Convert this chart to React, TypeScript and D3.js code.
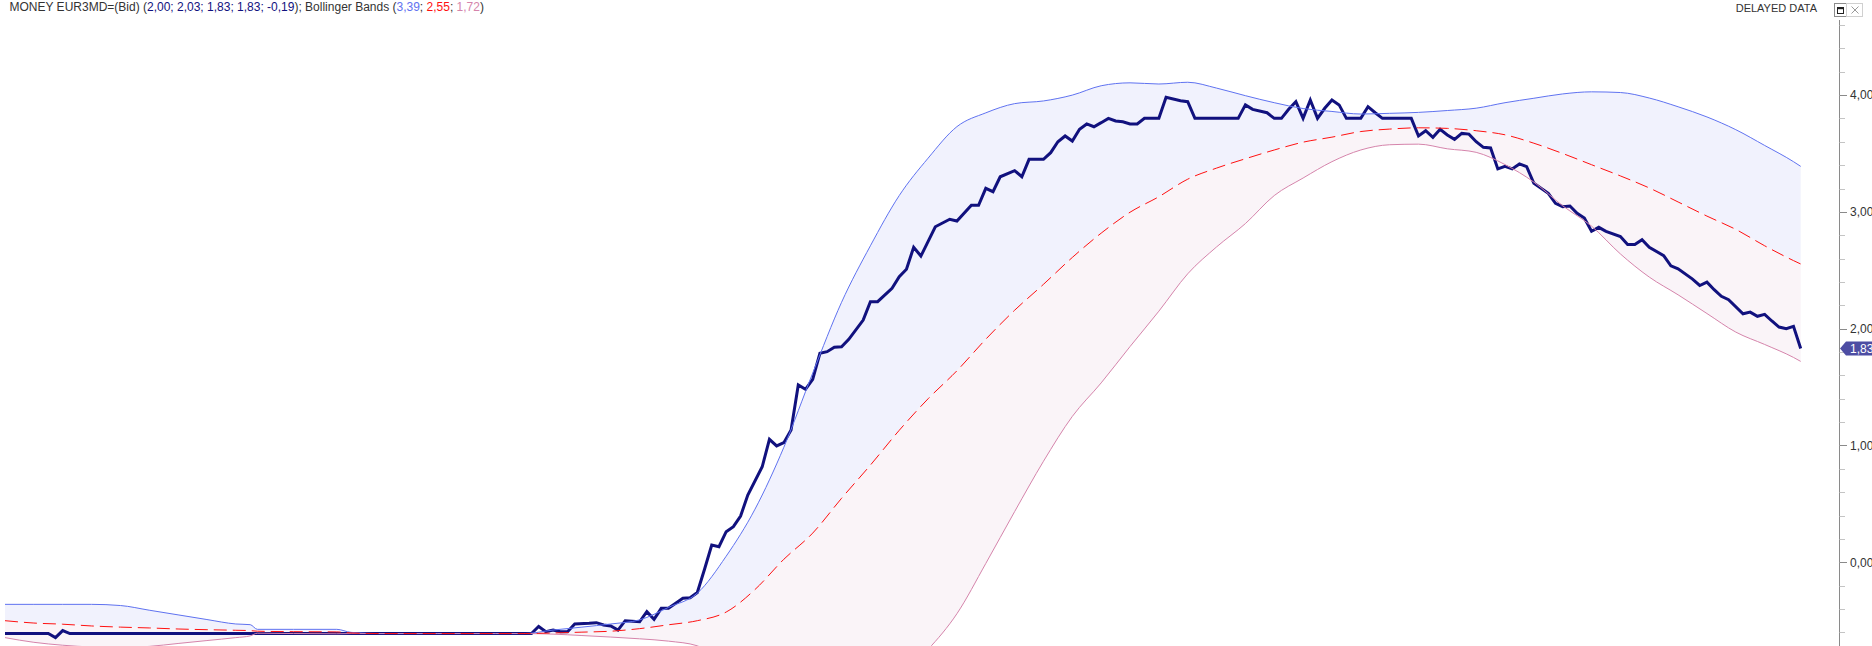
import React from "react";
import * as d3 from "d3";

// ---------- data ----------
// weekly index (0 = first week shown, 249 = last week)
const priceWeeks = [
  0, 6, 7, 8, 9, 73, 74, 75, 76, 77, 78, 79, 81, 82, 83, 84, 85, 86, 88, 89, 90, 91, 92, 93, 94, 95, 96, 97,
  98, 99, 100, 101, 102, 103, 105, 106, 107, 108, 109, 110, 111, 112, 113, 114, 115, 116, 117, 119, 120, 121,
  123, 124, 125, 126, 127, 129, 131, 132, 134, 135, 136, 137, 138, 140, 141, 142, 144, 145, 146, 147, 148, 149,
  150, 151, 152, 153, 154, 155, 156, 157, 158, 160, 161, 163, 164, 165, 171, 172, 173, 175, 176, 177, 178, 179,
  180, 181, 182, 183, 184, 185, 186, 188, 189, 190, 191, 195, 196, 197, 198, 199, 200, 201, 202, 203, 204, 205,
  206, 207, 208, 209, 210, 211, 212, 214, 215, 216, 217, 218, 219, 220, 221, 222, 224, 225, 226, 227, 228, 230,
  231, 232, 234, 235, 236, 237, 238, 239, 241, 242, 243, 244, 245, 246, 247, 248, 249,
];
const priceValues = [
  -0.61, -0.61, -0.645, -0.585, -0.61, -0.61, -0.55, -0.594, -0.58, -0.594, -0.594, -0.528, -0.522, -0.517,
  -0.537, -0.545, -0.58, -0.5, -0.509, -0.423, -0.488, -0.394, -0.394, -0.351, -0.308, -0.303, -0.259, -0.06,
  0.148, 0.134, 0.262, 0.305, 0.396, 0.576, 0.818, 1.053, 0.996, 1.024, 1.133, 1.518, 1.481, 1.567, 1.789,
  1.803, 1.841, 1.846, 1.909, 2.074, 2.231, 2.231, 2.346, 2.445, 2.509, 2.697, 2.622, 2.873, 2.937, 2.922,
  3.057, 3.057, 3.202, 3.173, 3.301, 3.353, 3.301, 3.45, 3.45, 3.507, 3.601, 3.65, 3.607, 3.707, 3.753, 3.729,
  3.764, 3.801, 3.778, 3.772, 3.753, 3.753, 3.801, 3.801, 3.981, 3.952, 3.944, 3.801, 3.801, 3.916, 3.878,
  3.849, 3.801, 3.801, 3.878, 3.944, 3.801, 3.958, 3.801, 3.887, 3.958, 3.916, 3.801, 3.801, 3.901, 3.849,
  3.801, 3.801, 3.65, 3.695, 3.639, 3.707, 3.658, 3.621, 3.672, 3.666, 3.601, 3.553, 3.548, 3.368, 3.39, 3.368,
  3.411, 3.388, 3.245, 3.159, 3.074, 3.045, 3.051, 2.988, 2.948, 2.834, 2.868, 2.834, 2.789, 2.72, 2.72, 2.761,
  2.697, 2.626, 2.538, 2.512, 2.425, 2.37, 2.399, 2.334, 2.277, 2.248, 2.128, 2.142, 2.106, 2.123, 2.066,
  2.014, 2.0, 2.02, 1.83,
];

const bandWeeks = [
  0, 4, 8, 12, 16, 20, 24, 28, 32, 34, 35, 40, 46, 48, 52, 60, 68, 72, 76, 80, 84, 88, 92, 96, 100, 104, 108,
  112, 116, 120, 124, 128, 132, 136, 140, 144, 148, 152, 156, 160, 164, 168, 172, 176, 180, 184, 188, 192, 196,
  200, 204, 208, 212, 216, 220, 224, 228, 232, 236, 240, 244, 248, 249,
];
const upperBand = [
  -0.36, -0.36, -0.36, -0.36, -0.37, -0.41, -0.45, -0.49, -0.528, -0.534, -0.574, -0.574, -0.574, -0.6, -0.61,
  -0.61, -0.61, -0.61, -0.58, -0.555, -0.528, -0.493, -0.386, -0.264, 0.052, 0.455, 0.985, 1.62, 2.226, 2.71,
  3.14, 3.46, 3.73, 3.848, 3.927, 3.95, 4.0, 4.08, 4.105, 4.095, 4.11, 4.06, 3.995, 3.935, 3.885, 3.86, 3.838,
  3.844, 3.852, 3.868, 3.888, 3.935, 3.973, 4.01, 4.028, 4.022, 3.975, 3.9, 3.813, 3.704, 3.569, 3.43, 3.39,
];
const middleBand = [
  -0.5, -0.52, -0.53, -0.545, -0.555, -0.562, -0.571, -0.577, -0.582, -0.585, -0.59, -0.594, -0.596, -0.605,
  -0.61, -0.61, -0.61, -0.61, -0.605, -0.598, -0.59, -0.568, -0.535, -0.5, -0.426, -0.233, 0.026, 0.25, 0.548,
  0.832, 1.13, 1.4, 1.64, 1.91, 2.158, 2.38, 2.61, 2.818, 2.997, 3.13, 3.28, 3.375, 3.455, 3.53, 3.597, 3.64,
  3.688, 3.709, 3.72, 3.715, 3.695, 3.66, 3.588, 3.5, 3.404, 3.308, 3.205, 3.085, 2.964, 2.85, 2.71, 2.583, 2.554,
];
const lowerBand = [
  -0.645, -0.685, -0.71, -0.725, -0.73, -0.72, -0.695, -0.67, -0.645, -0.63, -0.607, -0.61, -0.612, -0.61, -0.61,
  -0.61, -0.61, -0.61, -0.615, -0.627, -0.64, -0.655, -0.675, -0.715, -0.88, -0.93, -0.98, -1.06, -1.1, -1.08,
  -0.97, -0.745, -0.44, -0.01, 0.434, 0.865, 1.249, 1.536, 1.847, 2.15, 2.47, 2.7, 2.9, 3.14, 3.29, 3.43, 3.53,
  3.575, 3.58, 3.54, 3.51, 3.405, 3.255, 3.052, 2.878, 2.64, 2.442, 2.29, 2.13, 1.971, 1.865, 1.754, 1.72,
];

const ohlcValues = [2.0, 2.03, 1.83, 1.83, -0.19];
const bollingerValues = [3.39, 2.55, 1.72];
const majorTicks = [0, 1, 2, 3, 4];
const instrumentName = "MONEY EUR3MD=(Bid)";

// ---------- styling ----------
const W = 1872;
const H = 646;
const FONT = "Arial, 'Liberation Sans', sans-serif";
const C = {
  price: "#11117e",
  upper: "#5f72f0",
  middle: "#ff1010",
  lower: "#d584ab",
  upperFill: "#f1f2fd",
  lowerFill: "#faf4f8",
  axis: "#8a8a8a",
  text: "#333333",
  label: "#4d4da3",
};

const fmt = (v: number) => d3.format(".2f")(v).replace(".", ",").replace("−", "-");

export default function App() {
  const x = d3.scaleLinear().domain([0, 249]).range([5, 1800.7]);
  const y = d3.scaleLinear().domain([0, 4]).range([562.3, 95.1]);
  const axisX = 1839.5;

  const price = priceWeeks.map((w, i) => ({ w, v: priceValues[i] }));
  const bands = bandWeeks.map((w, i) => ({ w, u: upperBand[i], m: middleBand[i], l: lowerBand[i] }));

  const curve = d3.curveMonotoneX;
  const upperArea = d3.area<any>().x((d) => x(d.w)).y0((d) => y(d.m)).y1((d) => y(d.u)).curve(curve);
  const lowerArea = d3.area<any>().x((d) => x(d.w)).y0((d) => y(d.l)).y1((d) => y(d.m)).curve(curve);
  const bandLine = (key: "u" | "m" | "l") =>
    d3.line<any>().x((d) => x(d.w)).y((d) => y(d[key])).curve(curve)(bands) || "";
  const priceLine = d3.line<any>().x((d) => x(d.w)).y((d) => y(d.v))(price) || "";

  const minorTicks = d3.range(-6, 47).map((k) => k / 10).filter((v) => Math.round(v * 10) % 2 === 0);

  const last = priceValues[priceValues.length - 1];
  const ly = y(last);

  return (
    <svg
      width={W}
      height={H}
      style={{ position: "absolute", left: 0, top: 0, background: "#fff" }}
      fontFamily={FONT}
    >
      <defs>
        <clipPath id="plot">
          <rect x={0} y={20} width={axisX} height={H - 20} />
        </clipPath>
      </defs>
      <rect x={0} y={0} width={W} height={H} fill="#fff" />

      <g clipPath="url(#plot)">
        <path d={upperArea(bands) || ""} fill={C.upperFill} />
        <path d={lowerArea(bands) || ""} fill={C.lowerFill} />
        <path d={priceLine} fill="none" stroke={C.price} strokeWidth={3} strokeLinejoin="miter" strokeMiterlimit={3} />
        <path d={bandLine("u")} fill="none" stroke={C.upper} strokeWidth={1} />
        <path d={bandLine("l")} fill="none" stroke={C.lower} strokeWidth={1} />
        <path d={bandLine("m")} fill="none" stroke={C.middle} strokeWidth={1} strokeDasharray="13,6" />
      </g>

      {/* right axis */}
      <line x1={axisX} x2={axisX} y1={20} y2={H} stroke={C.axis} strokeWidth={1} />
      {minorTicks.map((v) => (
        <line key={"m" + v} x1={axisX} x2={axisX + 5.5} y1={Math.round(y(v)) + 0.5} y2={Math.round(y(v)) + 0.5} stroke="#c4c4c4" />
      ))}
      {majorTicks.map((v) => (
        <g key={"t" + v}>
          <line x1={axisX} x2={axisX + 7.5} y1={Math.round(y(v)) + 0.5} y2={Math.round(y(v)) + 0.5} stroke={C.axis} />
          <text x={1850} y={y(v)} dy="0.35em" fontSize={12} fill={C.text}>
            {fmt(v)}
          </text>
        </g>
      ))}

      {/* last value label */}
      <path
        d={`M${axisX + 0.5},${ly} L${axisX + 6.5},${ly - 7} L${W},${ly - 7} L${W},${ly + 7} L${axisX + 6.5},${ly + 7} Z`}
        fill={C.label}
      />
      <text x={1850} y={ly} dy="0.36em" fontSize={12} fill="#fff">
        {fmt(last)}
      </text>

      {/* title */}
      <text x={9.5} y={11} fontSize={12} fill={C.text}>
        <tspan>{instrumentName} (</tspan>
        <tspan fill={C.price}>{ohlcValues.map(fmt).join("; ")}</tspan>
        <tspan>); Bollinger Bands (</tspan>
        <tspan fill={C.upper}>{fmt(bollingerValues[0])}</tspan>
        <tspan>; </tspan>
        <tspan fill={C.middle}>{fmt(bollingerValues[1])}</tspan>
        <tspan>; </tspan>
        <tspan fill={C.lower}>{fmt(bollingerValues[2])}</tspan>
        <tspan>)</tspan>
      </text>

      {/* delayed data + buttons */}
      <text x={1817} y={11.5} fontSize={11} fill={C.text} textAnchor="end">
        DELAYED DATA
      </text>
      <rect x={1834.5} y={3.5} width={12} height={13} fill="#fff" stroke="#8c8c8c" />
      <rect x={1837.5} y={7.5} width={6} height={6} fill="none" stroke="#222" />
      <rect x={1837} y={7} width={7} height={2.2} fill="#222" />
      <rect x={1846.5} y={3.5} width={16} height={13} fill="#fff" stroke="#d0d0d0" />
      <line x1={1851.5} y1={6.5} x2={1858.5} y2={13.5} stroke="#9a9a9a" />
      <line x1={1858.5} y1={6.5} x2={1851.5} y2={13.5} stroke="#9a9a9a" />
    </svg>
  );
}
